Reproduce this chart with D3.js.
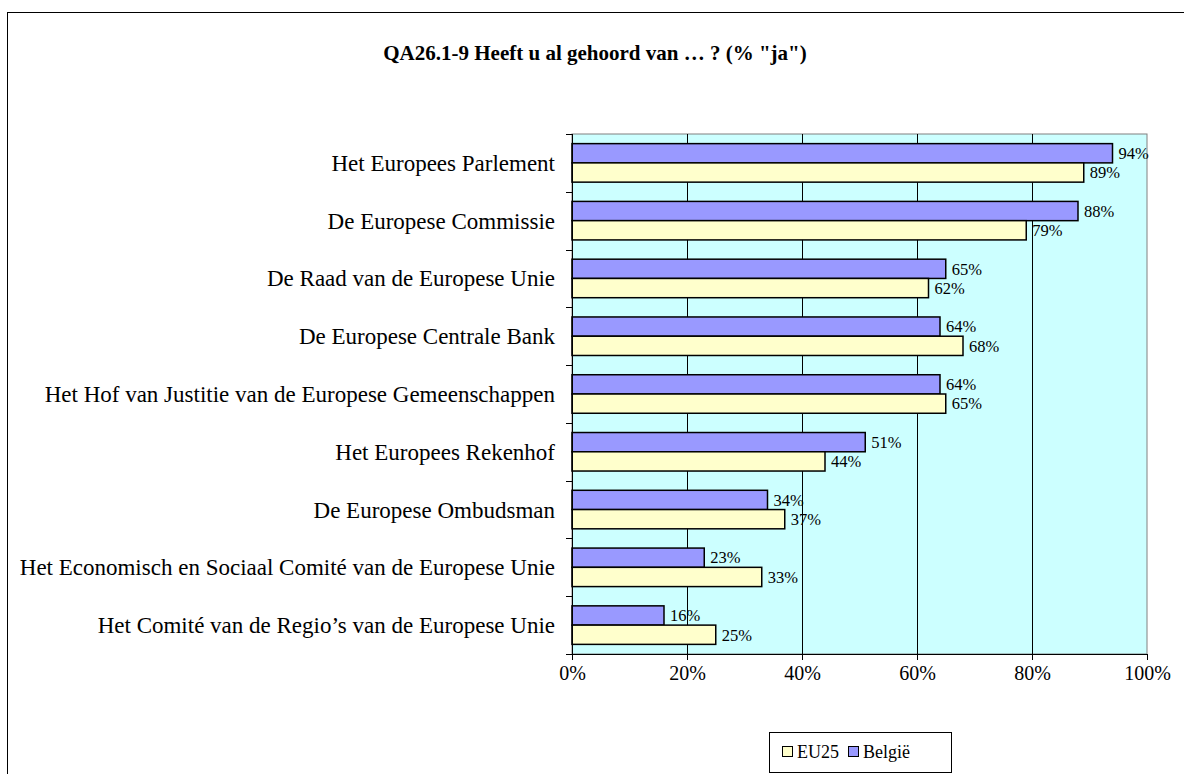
<!DOCTYPE html>
<html>
<head>
<meta charset="utf-8">
<script src="https://cdn.jsdelivr.net/npm/d3@7"></script>
<style>
  html, body { margin: 0; padding: 0; background: #fff; }
  svg { display: block; }
  text { font-family: "Liberation Serif", "Times New Roman", serif; fill: #000; }
</style>
</head>
<body>
<svg id="chart" width="1184" height="774"></svg>
<script>
const categories = [
  "Het Europees Parlement",
  "De Europese Commissie",
  "De Raad van de Europese Unie",
  "De Europese Centrale Bank",
  "Het Hof van Justitie van de Europese Gemeenschappen",
  "Het Europees Rekenhof",
  "De Europese Ombudsman",
  "Het Economisch en Sociaal Comité van de Europese Unie",
  "Het Comité van de Regio’s van de Europese Unie"
];
const belgie = [94, 88, 65, 64, 64, 51, 34, 23, 16];
const eu25 = [89, 79, 62, 68, 65, 44, 37, 33, 25];
const xTicks = [0, 20, 40, 60, 80, 100];
const seriesNames = ["EU25", "België"];
const title = "QA26.1-9 Heeft u al gehoord van … ? (% \"ja\")";

const svg = d3.select("#chart");
const M = { left: 572, right: 1147, top: 134, bottom: 654 };

// outer frame
svg.append("rect").attr("x", 7.5).attr("y", 12.5).attr("width", 1200).attr("height", 800)
  .attr("fill", "#fff").attr("stroke", "#000").attr("stroke-width", 1);

svg.append("text").attr("x", 595).attr("y", 60).attr("text-anchor", "middle")
  .attr("font-size", 21).attr("font-weight", "bold").text(title);

const x = d3.scaleLinear().domain([0, 100]).range([M.left, M.right]);
const y = d3.scaleBand().domain(categories).range([M.top, M.bottom]).paddingInner(0).paddingOuter(0);
const barH = y.bandwidth() / 3;

// plot background
svg.append("rect").attr("x", M.left).attr("y", M.top)
  .attr("width", M.right - M.left).attr("height", M.bottom - M.top)
  .attr("fill", "#CCFFFF").attr("stroke", "#808080").attr("stroke-width", 1);

// gridlines
svg.append("g").selectAll("line").data(xTicks.filter(d => d > 0 && d < 100)).join("line")
  .attr("x1", d => Math.round(x(d)) + 0.5).attr("x2", d => Math.round(x(d)) + 0.5)
  .attr("y1", M.top).attr("y2", M.bottom)
  .attr("stroke", "#000").attr("stroke-width", 1);

// bars
const groups = svg.append("g").selectAll("g").data(categories).join("g");
groups.append("rect")
  .attr("x", M.left).attr("y", d => y(d) + barH / 2)
  .attr("width", (d, i) => x(belgie[i]) - M.left).attr("height", barH)
  .attr("fill", "#9999FF").attr("stroke", "#000").attr("stroke-width", 1.5);
groups.append("rect")
  .attr("x", M.left).attr("y", d => y(d) + barH * 1.5)
  .attr("width", (d, i) => x(eu25[i]) - M.left).attr("height", barH)
  .attr("fill", "#FFFFCC").attr("stroke", "#000").attr("stroke-width", 1.5);

groups.append("text")
  .attr("x", (d, i) => x(belgie[i]) + 6).attr("y", d => y(d) + barH)
  .attr("dy", "0.35em").attr("font-size", 16.5).text((d, i) => belgie[i] + "%");
groups.append("text")
  .attr("x", (d, i) => x(eu25[i]) + 6).attr("y", d => y(d) + barH * 2)
  .attr("dy", "0.35em").attr("font-size", 16.5).text((d, i) => eu25[i] + "%");

// x axis
const xAxis = d3.axisBottom(x).tickValues(xTicks).tickFormat(d => d + "%").tickSize(6).tickPadding(6);
const gx = svg.append("g").attr("transform", `translate(0,${M.bottom})`).call(xAxis);
gx.select(".domain").attr("stroke", "#000");
gx.selectAll(".tick line").attr("stroke", "#000");
gx.selectAll("text").attr("font-size", 20).attr("font-family", "Liberation Serif").attr("fill", "#000");

// y axis (ticks at category boundaries)
svg.append("line").attr("x1", M.left + 0.5).attr("x2", M.left + 0.5)
  .attr("y1", M.top).attr("y2", M.bottom + 6).attr("stroke", "#000");
const bounds = categories.map(c => y(c)).concat([M.bottom]);
svg.append("g").selectAll("line").data(bounds).join("line")
  .attr("x1", M.left - 6).attr("x2", M.left)
  .attr("y1", d => Math.round(d) + 0.5).attr("y2", d => Math.round(d) + 0.5)
  .attr("stroke", "#000");
svg.append("g").selectAll("text").data(categories).join("text")
  .attr("x", 555).attr("y", d => y(d) + y.bandwidth() / 2)
  .attr("dy", "0.35em").attr("text-anchor", "end").attr("font-size", 23)
  .text(d => d);

// legend
const lg = svg.append("g");
lg.append("rect").attr("x", 769.5).attr("y", 732.5).attr("width", 182).attr("height", 40)
  .attr("fill", "#fff").attr("stroke", "#000");
const legendItems = [
  { name: seriesNames[0], color: "#FFFFCC", x: 782 },
  { name: seriesNames[1], color: "#9999FF", x: 848 }
];
legendItems.forEach(it => {
  lg.append("rect").attr("x", it.x + 0.5).attr("y", 746.5).attr("width", 10).attr("height", 10)
    .attr("fill", it.color).attr("stroke", "#000");
  lg.append("text").attr("x", it.x + 15).attr("y", 752).attr("dy", "0.35em")
    .attr("font-size", 18).text(it.name);
});
</script>
</body>
</html>
